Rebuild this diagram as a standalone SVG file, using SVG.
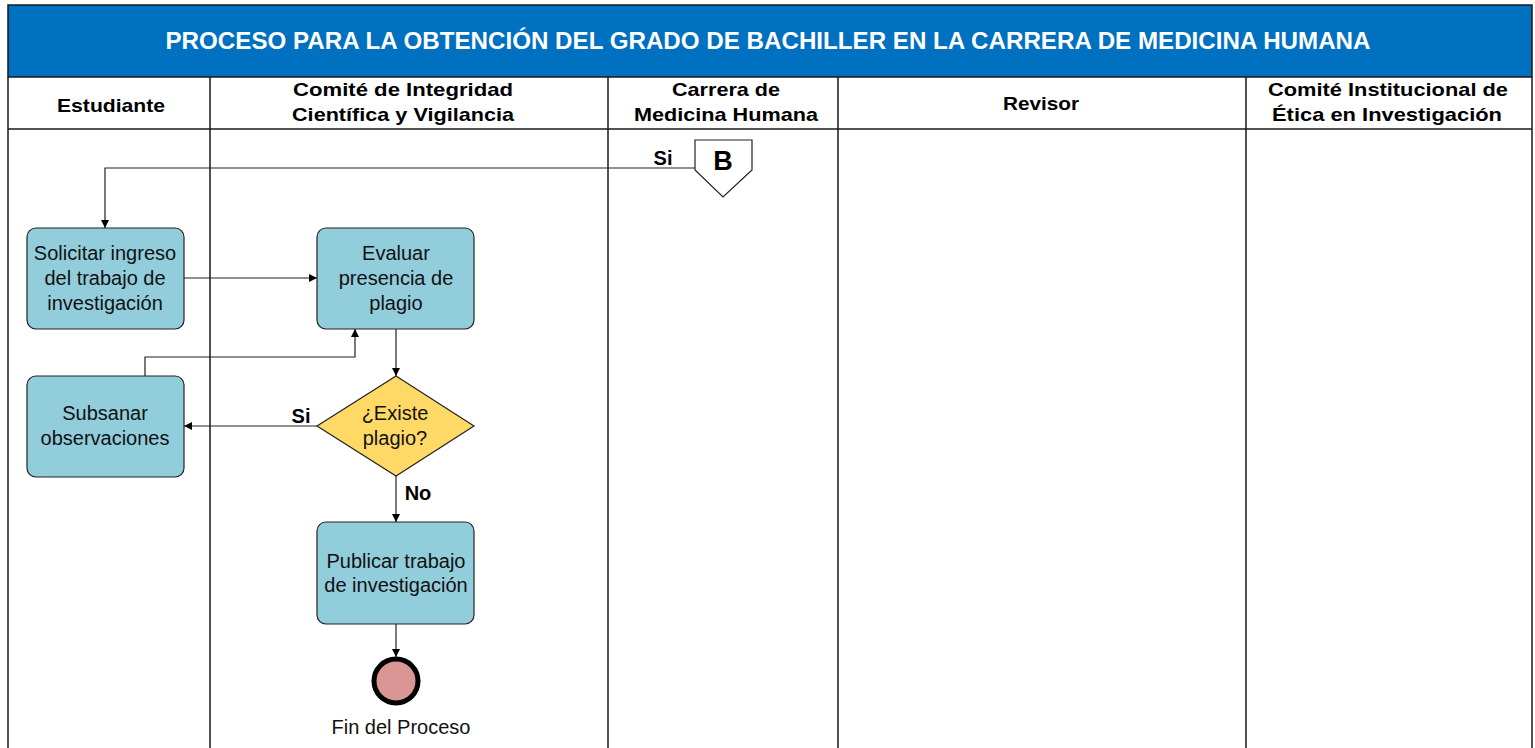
<svg xmlns="http://www.w3.org/2000/svg" width="1535" height="748" viewBox="0 0 1535 748">
<style>
.frame{fill:none;stroke:#1a1a1a;stroke-width:1.5}
.hdr{font-family:"Liberation Sans",Arial,sans-serif;font-weight:bold;font-size:19px;fill:#000;text-anchor:middle}
.task{fill:#92CDDC;stroke:#222;stroke-width:1.2}
.txt{font-family:"Liberation Sans",Arial,sans-serif;font-size:20px;fill:#111;text-anchor:middle}
.lbl{font-family:"Liberation Sans",Arial,sans-serif;font-weight:bold;font-size:20px;fill:#000;text-anchor:middle}
.con{fill:none;stroke:#222;stroke-width:1.2;marker-end:url(#arr)}
</style>
<defs>
<marker id="arr" viewBox="0 0 10 10" refX="10" refY="5" markerWidth="8" markerHeight="8" markerUnits="userSpaceOnUse" orient="auto">
<path d="M0,0 L10,5 L0,10 z" fill="#000"/>
</marker>
</defs>
<rect width="1535" height="748" fill="#fff"/>
<g id="pool">
<rect x="8" y="5" width="1524" height="72" fill="#0070C0" stroke="#1a1a1a" stroke-width="1.5"/>
<text x="768" y="49" font-family="'Liberation Sans',Arial,sans-serif" font-weight="bold" font-size="23" fill="#fff" text-anchor="middle" textLength="1205" lengthAdjust="spacingAndGlyphs">PROCESO PARA LA OBTENCIÓN DEL GRADO DE BACHILLER EN LA CARRERA DE MEDICINA HUMANA</text>
<path class="frame" d="M8,77 V748 M1532,77 V748 M8,129 H1532 M210,77 V748 M608,77 V748 M838,77 V748 M1246,77 V748"/>
<text class="hdr" x="111" y="112" textLength="108" lengthAdjust="spacingAndGlyphs">Estudiante</text>
<text class="hdr" x="403" y="96" textLength="220" lengthAdjust="spacingAndGlyphs">Comité de Integridad</text>
<text class="hdr" x="403" y="121" textLength="222" lengthAdjust="spacingAndGlyphs">Científica y Vigilancia</text>
<text class="hdr" x="726" y="96" textLength="108" lengthAdjust="spacingAndGlyphs">Carrera de</text>
<text class="hdr" x="726" y="121" textLength="184" lengthAdjust="spacingAndGlyphs">Medicina Humana</text>
<text class="hdr" x="1041" y="110" textLength="76" lengthAdjust="spacingAndGlyphs">Revisor</text>
<text class="hdr" x="1388" y="96" textLength="240" lengthAdjust="spacingAndGlyphs">Comité Institucional de</text>
<text class="hdr" x="1387" y="121" textLength="230" lengthAdjust="spacingAndGlyphs">Ética en Investigación</text>
</g>
<g id="connectors">
<path class="con" d="M695,168 H105 V228"/>
<path class="con" d="M184,278 H317"/>
<path class="con" d="M145,376 V357 H355 V329"/>
<path class="con" d="M396,329 V376"/>
<path class="con" d="M317,426 H184"/>
<path class="con" d="M396,476 V522"/>
<path class="con" d="M396,624 V657"/>
<text class="lbl" x="663" y="165">Si</text>
<text class="lbl" x="301" y="423">Si</text>
<text class="lbl" x="418" y="500">No</text>
</g>
<g id="offpage-B">
<path d="M695,140 H752 V170 L723,197 L695,170 Z" fill="#fff" stroke="#222" stroke-width="1.2"/>
<text x="723" y="170" font-family="'Liberation Sans',Arial,sans-serif" font-weight="bold" font-size="27" text-anchor="middle" fill="#000">B</text>
</g>
<g id="solicitar">
<rect class="task" x="27" y="228" width="157" height="101" rx="9"/>
<text class="txt" x="105" y="260">Solicitar ingreso</text>
<text class="txt" x="105" y="285">del trabajo de</text>
<text class="txt" x="105" y="310">investigación</text>
</g>
<g id="evaluar">
<rect class="task" x="317" y="228" width="157" height="101" rx="9"/>
<text class="txt" x="396" y="260">Evaluar</text>
<text class="txt" x="396" y="285">presencia de</text>
<text class="txt" x="396" y="310">plagio</text>
</g>
<g id="subsanar">
<rect class="task" x="27" y="376" width="157" height="101" rx="9"/>
<text class="txt" x="105" y="420">Subsanar</text>
<text class="txt" x="105" y="445">observaciones</text>
</g>
<g id="existe-plagio">
<path d="M396,376 L474,426 L396,476 L317,426 Z" fill="#FFD966" stroke="#222" stroke-width="1.2"/>
<text class="txt" x="395" y="420">¿Existe</text>
<text class="txt" x="395" y="445">plagio?</text>
</g>
<g id="publicar">
<rect class="task" x="317" y="522" width="157" height="102" rx="9"/>
<text class="txt" x="396" y="568">Publicar trabajo</text>
<text class="txt" x="396" y="592">de investigación</text>
</g>
<g id="fin">
<circle cx="396" cy="681" r="22" fill="#D99694" stroke="#000" stroke-width="5"/>
<text class="txt" x="401" y="734">Fin del Proceso</text>
</g>
</svg>
